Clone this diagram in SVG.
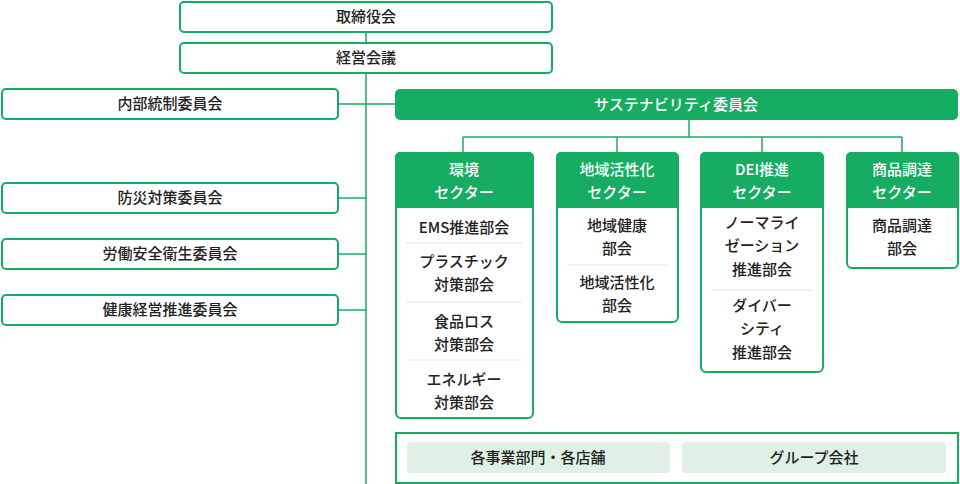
<svg xmlns="http://www.w3.org/2000/svg" width="960" height="484" viewBox="0 0 960 484">
<style>
.b{fill:#fff;stroke:#16ad63;stroke-width:2}
.g{fill:#16ad63}
.l{stroke:#16ad63;stroke-width:1.5;fill:none}
.s{stroke:#dfe6e1;stroke-width:1}
text{font-family:"Noto Sans CJK JP","Noto Sans",sans-serif;font-size:15px;text-anchor:middle;fill:#222;font-weight:500}
.w{fill:#fff}
</style>
<g id="connectors">
<path class="l" d="M366 32V43M366 73V484M338 104H395M338 198H366M338 254H366M338 310H366M689 120V137M463 137H902M463 137V152M617 137V152M762 137V152M902 137V152"/>
</g>
<g id="n1"><rect class="b" x="180" y="2" width="372" height="30" rx="4"/><text x="366" y="22">取締役会</text></g>
<g id="n2"><rect class="b" x="180" y="43" width="372" height="30" rx="4"/><text x="366" y="63">経営会議</text></g>
<g id="n3"><rect class="b" x="2" y="89" width="336" height="30" rx="4"/><text x="170" y="109">内部統制委員会</text></g>
<g id="n4"><rect class="b" x="2" y="183" width="336" height="30" rx="4"/><text x="170" y="203">防災対策委員会</text></g>
<g id="n5"><rect class="b" x="2" y="239" width="336" height="30" rx="4"/><text x="170" y="259">労働安全衛生委員会</text></g>
<g id="n6"><rect class="b" x="2" y="295" width="336" height="30" rx="4"/><text x="170" y="315">健康経営推進委員会</text></g>
<g id="n7"><rect class="g" x="395" y="89" width="563" height="31" rx="5"/><text class="w" x="676" y="110">サステナビリティ委員会</text></g>
<g id="n8"><rect class="b" x="396" y="153" width="137" height="265" rx="5"/><path class="g" d="M395 208V157a5 5 0 0 1 5-5H529a5 5 0 0 1 5 5V208Z"/>
<text class="w" x="464" y="175">環境</text><text class="w" x="464" y="198">セクター</text>
<text x="464" y="233">EMS推進部会</text><line class="s" x1="406" y1="243" x2="522" y2="243"/>
<text x="464" y="267">プラスチック</text><text x="464" y="290">対策部会</text><line class="s" x1="406" y1="302" x2="522" y2="302"/>
<text x="464" y="327">食品ロス</text><text x="464" y="350">対策部会</text><line class="s" x1="406" y1="360" x2="522" y2="360"/>
<text x="464" y="385">エネルギー</text><text x="464" y="408">対策部会</text></g>
<g id="n9"><rect class="b" x="557" y="153" width="121" height="169" rx="5"/><path class="g" d="M556 208V157a5 5 0 0 1 5-5H674a5 5 0 0 1 5 5V208Z"/>
<text class="w" x="617" y="175">地域活性化</text><text class="w" x="617" y="198">セクター</text>
<text x="617" y="231">地域健康</text><text x="617" y="254">部会</text><line class="s" x1="567" y1="265" x2="668" y2="265"/>
<text x="617" y="288">地域活性化</text><text x="617" y="311">部会</text></g>
<g id="n10"><rect class="b" x="701" y="153" width="122" height="219" rx="5"/><path class="g" d="M700 208V157a5 5 0 0 1 5-5H819a5 5 0 0 1 5 5V208Z"/>
<text class="w" x="762" y="175">DEI推進</text><text class="w" x="762" y="198">セクター</text>
<text x="762" y="228">ノーマライ</text><text x="762" y="251">ゼーション</text><text x="762" y="275">推進部会</text><line class="s" x1="711" y1="290" x2="813" y2="290"/>
<text x="762" y="311">ダイバー</text><text x="762" y="334">シティ</text><text x="762" y="358">推進部会</text></g>
<g id="n11"><rect class="b" x="847" y="153" width="111" height="115" rx="5"/><path class="g" d="M846 208V157a5 5 0 0 1 5-5H954a5 5 0 0 1 5 5V208Z"/>
<text class="w" x="902" y="175">商品調達</text><text class="w" x="902" y="198">セクター</text>
<text x="902" y="231">商品調達</text><text x="902" y="254">部会</text></g>
<g id="n12"><rect class="b" x="396" y="433" width="562" height="50"/>
<rect x="407" y="442" width="263" height="31" rx="4" fill="#e0f0e4"/><text x="538" y="463">各事業部門・各店舗</text>
<rect x="682" y="442" width="264" height="31" rx="4" fill="#e0f0e4"/><text x="814" y="463">グループ会社</text></g>
</svg>
